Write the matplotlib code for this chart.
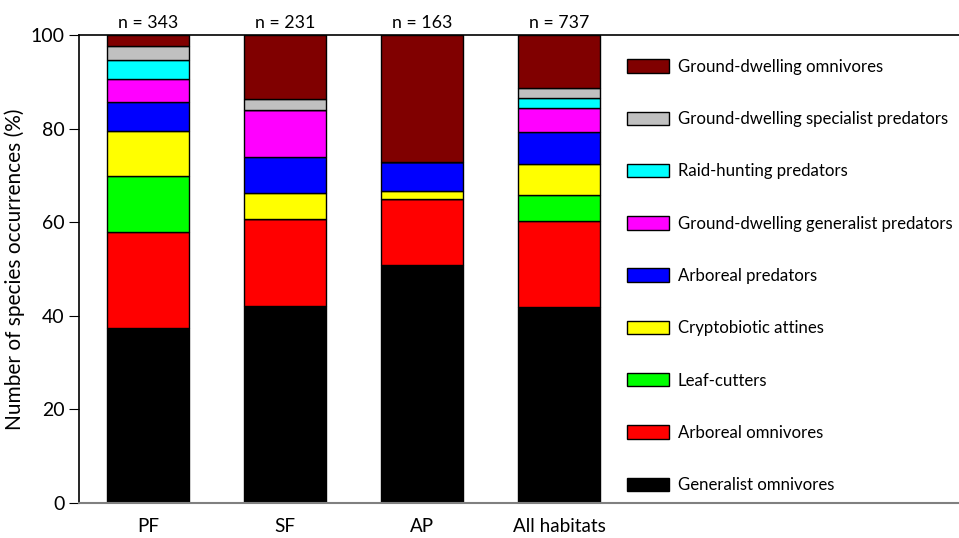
import matplotlib
matplotlib.use("Agg")
import numpy as np
from matplotlib import pyplot as plt
from matplotlib.patches import Patch

plt.rcParams['font.family'] = ['Lato', 'DejaVu Sans']

# 数据
habitats = ["PF", "SF", "AP", "All habitats"]
n_labels = ["n = 343", "n = 231", "n = 163", "n = 737"]

groups = ["Generalist omnivores", "Arboreal omnivores", "Leaf-cutters",
          "Cryptobiotic attines", "Arboreal predators",
          "Ground-dwelling generalist predators", "Raid-hunting predators",
          "Ground-dwelling specialist predators", "Ground-dwelling omnivores"]
colors = ["#000000", "#ff0000", "#00ff00", "#ffff00", "#0000ff",
          "#ff00ff", "#00ffff", "#c0c0c0", "#800000"]

generalist_omni = [37.4, 42.1, 50.9, 41.9]
arboreal_omni = [20.6, 18.5, 14.1, 18.4]
leaf_cutters = [11.9, 0.0, 0.0, 5.6]
cryptobiotic = [9.6, 5.6, 1.7, 6.5]
arboreal_pred = [6.2, 7.7, 6.2, 6.8]
ground_gen_pred = [4.8, 10.0, 0.0, 5.3]
raid_hunting = [4.2, 0.0, 0.0, 2.0]
ground_spec_pred = [2.9, 2.5, 0.0, 2.1]
ground_omni = [2.4, 13.6, 27.1, 11.4]

series = [generalist_omni, arboreal_omni, leaf_cutters, cryptobiotic,
          arboreal_pred, ground_gen_pred, raid_hunting, ground_spec_pred,
          ground_omni]

fig = plt.figure(figsize=(9.59, 5.38), dpi=100)
ax = fig.add_axes([79/959, 35/538, 880/959, 468/538])

x = np.arange(len(habitats))
bottom = np.zeros(len(habitats))
for vals, c in zip(series, colors):
    vals = np.array(vals)
    ax.bar(x, vals, width=0.6, bottom=bottom, color=c, edgecolor="black",
           linewidth=1.0)
    bottom += vals

# 柱顶的样本数
for xi, lab in zip(x, n_labels):
    ax.text(xi, 100.8, lab, ha="center", va="bottom", fontsize=12.8)

ax.set_xlim(-0.504, 5.92)
ax.set_ylim(0, 100)
ax.set_yticks([0, 20, 40, 60, 80, 100])
ax.set_xticks(x)
ax.set_xticklabels(habitats, fontsize=13.6)
ax.tick_params(axis="y", labelsize=14, length=7, direction="out")
ax.tick_params(axis="x", length=0, pad=11)
ax.set_ylabel("Number of species occurrences (%)", fontsize=15, labelpad=4)

ax.spines["right"].set_visible(False)
ax.spines["bottom"].set_color("#808080")
ax.spines["bottom"].set_linewidth(1.5)
ax.spines["top"].set_linewidth(1.2)
ax.spines["left"].set_linewidth(1.2)

# 图例（从上到下倒序）
handles = [Patch(facecolor=c, edgecolor="black", linewidth=1.0)
           for c in colors[::-1]]
ax.legend(handles, groups[::-1], loc="upper left",
          bbox_to_anchor=(541/880, 1 - 17/468), frameon=False,
          fontsize=12.1, labelspacing=2.16, handlelength=2.5,
          handleheight=0.85, handletextpad=0.55, borderaxespad=0)

plt.savefig("out.png", dpi=100)
